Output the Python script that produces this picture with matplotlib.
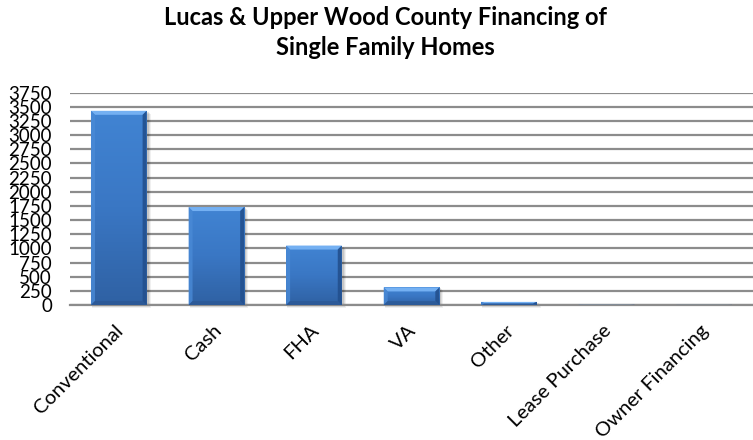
import numpy as np
import matplotlib
matplotlib.use("Agg")
import matplotlib.pyplot as plt
from matplotlib.colors import LinearSegmentedColormap
from matplotlib.patches import Polygon, Rectangle
from matplotlib.transforms import ScaledTranslation

categories = ["Conventional", "Cash", "FHA", "VA", "Other",
              "Lease Purchase", "Owner Financing"]
counts = [3430, 1730, 1050, 310, 55, 4, 2]
y_ticks = list(range(0, 3751, 250))
title = "Lucas & Upper Wood County Financing of\nSingle Family Homes"

plt.rcParams["font.family"] = ["Lato", "DejaVu Sans"]

W, H = 753, 440
fig = plt.figure(figsize=(W / 100, H / 100), dpi=100)
ax_l, ax_r, ax_b, ax_t = 70, 753, 305, 92.7
ax = fig.add_axes([ax_l / W, 1 - ax_b / H, (ax_r - ax_l) / W, (ax_b - ax_t) / H])

x = np.arange(len(categories))
width = 0.57
ymax = 3750
xlim = (-0.5, len(categories) - 0.5)

ax.set_xlim(*xlim)
ax.set_ylim(0, ymax)
ax.set_yticks(y_ticks)
ax.set_yticklabels([str(t) for t in y_ticks], fontsize=13.5)
ax.yaxis.grid(True, color="#8c8c8c", linewidth=1.6)
ax.set_axisbelow(True)
ax.tick_params(axis="y", length=0, pad=13)
ax.tick_params(axis="x", length=0)
for s in ("top", "right", "left"):
    ax.spines[s].set_visible(False)
ax.spines["bottom"].set_color("#8c8c8c")
ax.spines["bottom"].set_linewidth(1.6)

# one pixel in data units, for the bevel widths
px_x = (xlim[1] - xlim[0]) / (ax_r - ax_l)
px_y = ymax / (ax_b - ax_t)

face_cmap = LinearSegmentedColormap.from_list("face", ["#2f61a3", "#3a77c4", "#4184d3"])
bars = ax.bar(x, counts, width=width, color="#3a77c4", zorder=3, linewidth=0)
for rect in bars:
    x0, w, h = rect.get_x(), rect.get_width(), rect.get_height()
    if h <= 0:
        continue
    x1 = x0 + w
    # soft drop shadow
    for k, a in ((3, 0.06), (2, 0.08), (1, 0.10)):
        ax.add_patch(Rectangle((x0 + 1 * px_x, -k * px_y), w + k * px_x, h,
                               facecolor="#000000", alpha=a, zorder=2, linewidth=0,
                               clip_on=False))
    grad = np.linspace(0, 1, 128).reshape(-1, 1)
    im = ax.imshow(grad, cmap=face_cmap, aspect="auto", origin="lower",
                   extent=(x0, x1, 0, h), zorder=4)
    im.set_clip_path(rect)
    bw = 4 * px_x
    bh = min(4 * px_y, h / 2)
    # bevel edges: light top, lighter left, dark right and bottom
    ax.add_patch(Polygon([(x0, h), (x1, h), (x1 - bw, h - bh), (x0 + bw, h - bh)],
                         facecolor="#74b0f2", zorder=5, linewidth=0))
    ax.add_patch(Polygon([(x0, 0), (x0, h), (x0 + bw, h - bh), (x0 + bw, bh)],
                         facecolor="#4a8ad6", alpha=0.8, zorder=5, linewidth=0))
    ax.add_patch(Polygon([(x1, 0), (x1, h), (x1 - bw, h - bh), (x1 - bw, bh)],
                         facecolor="#23508e", alpha=0.9, zorder=5, linewidth=0))
    ax.add_patch(Polygon([(x0, 0), (x1, 0), (x1 - bw, bh), (x0 + bw, bh)],
                         facecolor="#2a5590", alpha=0.6, zorder=5, linewidth=0))
ax.set_ylim(0, ymax)
ax.set_xlim(*xlim)

ax.set_xticks(x)
ax.set_xticklabels(categories, rotation=45, ha="right", va="top",
                   rotation_mode="anchor", fontsize=14.5)
ax.tick_params(axis="x", pad=12)
shift = ScaledTranslation(-4 / 100, 0, fig.dpi_scale_trans)
for lbl in ax.get_xticklabels():
    lbl.set_transform(lbl.get_transform() + shift)

fig.text(385 / W, 1 - 6 / H, title, ha="center", va="top",
         fontsize=17, fontweight="bold", linespacing=1.38)

fig.savefig("out.png", dpi=100)
